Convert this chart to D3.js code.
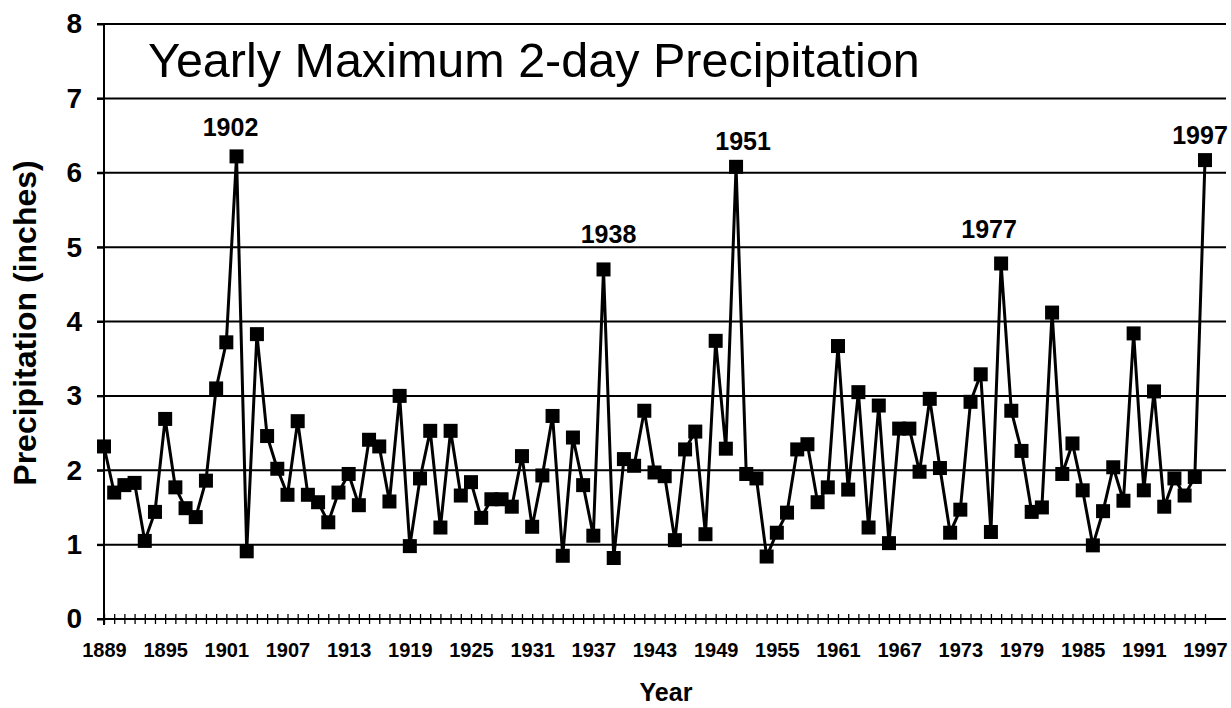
<!DOCTYPE html>
<html><head><meta charset="utf-8">
<script src="https://cdn.jsdelivr.net/npm/d3@7"></script>
<style>
body{margin:0;background:#fff}
svg{display:block}
text{font-family:"Liberation Sans",Arial,Helvetica,sans-serif;fill:#000}
</style>
</head><body>
<svg id="chart" width="1231" height="708"></svg>
<script>
// ---- data ----
const startYear = 1889;
const endYear = 1997;
const precipitation = [
  2.32,1.70,1.80,1.83,1.05,1.44,2.69,1.77,1.49,1.37,1.86,           // 1889-1899
  3.10,3.72,6.22,0.91,3.83,2.46,2.02,1.67,2.66,1.67,                // 1900-1909
  1.57,1.30,1.70,1.95,1.53,2.41,2.32,1.58,3.00,0.98,                // 1910-1919
  1.89,2.53,1.23,2.53,1.66,1.84,1.36,1.61,1.61,1.51,                // 1920-1929
  2.19,1.24,1.93,2.73,0.85,2.44,1.80,1.12,4.70,0.82,                // 1930-1939
  2.15,2.06,2.80,1.97,1.92,1.06,2.28,2.52,1.14,3.74,                // 1940-1949
  2.29,6.08,1.95,1.89,0.84,1.16,1.43,2.28,2.35,1.57,                // 1950-1959
  1.77,3.67,1.74,3.05,1.23,2.87,1.02,2.56,2.56,1.98,                // 1960-1969
  2.96,2.03,1.16,1.47,2.92,3.29,1.17,4.78,2.80,2.26,                // 1970-1979
  1.44,1.50,4.12,1.95,2.36,1.73,0.99,1.45,2.04,1.59,                // 1980-1989
  3.84,1.73,3.06,1.51,1.89,1.66,1.91,6.17                           // 1990-1997
];
const years = precipitation.map((_, i) => startYear + i);
const yTickValues = [0,1,2,3,4,5,6,7,8];
const xTickLabels = [1889,1895,1901,1907,1913,1919,1925,1931,1937,1943,1949,1955,1961,1967,1973,1979,1985,1991,1997];
const peakYears = [1902,1938,1951,1977,1997];
const titleText = "Yearly Maximum 2-day Precipitation";
const xTitle = "Year";
const yTitle = "Precipitation (inches)";

// ---- layout / style (not data) ----
const peakOffsets = {1902:[-6,-20],1938:[5,-26],1951:[7,-17],1977:[-12,-25],1997:[-5,-16]};
const plot = {left:104, right:1205, top:24, bottom:619, gridRight:1226};

const svg = d3.select("#chart");
const x = d3.scaleLinear().domain([startYear, endYear]).range([plot.left, plot.right]);
const y = d3.scaleLinear().domain([0, 8]).range([plot.bottom, plot.top]);

// gridlines
svg.append("g").selectAll("line").data(yTickValues.filter(v => v > 0)).join("line")
  .attr("x1", plot.left - 7).attr("x2", plot.gridRight)
  .attr("y1", d => y(d)).attr("y2", d => y(d))
  .attr("stroke", "#000").attr("stroke-width", 2);

// y axis
const yAxis = svg.append("g").attr("transform", `translate(${plot.left},0)`)
  .call(d3.axisLeft(y).tickValues(yTickValues).tickSize(7).tickPadding(15).tickFormat(d3.format("d")));
yAxis.select(".domain").attr("stroke", "#000").attr("stroke-width", 2).attr("d", `M0,${plot.top}V${plot.bottom + 6}`);
yAxis.selectAll(".tick line").attr("stroke", "#000").attr("stroke-width", 2);
yAxis.selectAll("text").style("font-size", "28px").style("font-weight", "bold");

// x axis line
svg.append("line").attr("x1", plot.left - 7).attr("x2", plot.gridRight)
  .attr("y1", y(0)).attr("y2", y(0)).attr("stroke", "#000").attr("stroke-width", 2);

// x axis cross ticks every year
const xAxis = svg.append("g").attr("transform", `translate(0,${y(0) + 5})`)
  .call(d3.axisBottom(x).tickValues(years).tickSizeInner(10).tickSizeOuter(0).tickFormat(""));
xAxis.select(".domain").remove();
xAxis.selectAll(".tick line").attr("y1", -10).attr("y2", 0).attr("stroke", "#000").attr("stroke-width", 1.3);

// x tick labels
const xLab = svg.append("g").attr("transform", `translate(0,${y(0) + 38})`)
  .call(d3.axisBottom(x).tickValues(xTickLabels).tickSize(0).tickFormat(d3.format("d")));
xLab.select(".domain").remove();
xLab.selectAll("text").style("font-size", "20px").style("font-weight", "bold").attr("y", 0).attr("dy", 0);

// line
const line = d3.line().x((d, i) => x(years[i])).y(d => y(d));
svg.append("path").datum(precipitation).attr("d", line)
  .attr("fill", "none").attr("stroke", "#000").attr("stroke-width", 3).attr("stroke-linejoin", "miter");

// markers
const ms = 14;
svg.append("g").selectAll("rect").data(precipitation).join("rect")
  .attr("x", (d, i) => x(years[i]) - ms / 2).attr("y", d => y(d) - ms / 2)
  .attr("width", ms).attr("height", ms).attr("fill", "#000");

// peak labels
svg.append("g").selectAll("text").data(peakYears).join("text")
  .attr("x", d => x(d) + peakOffsets[d][0])
  .attr("y", d => y(precipitation[d - startYear]) + peakOffsets[d][1])
  .attr("text-anchor", "middle").style("font-size", "25px").style("font-weight", "bold")
  .text(d => d);

// title
svg.append("text").attr("x", 148).attr("y", 77).style("font-size", "48.5px").text(titleText);

// axis titles
svg.append("text").attr("x", 666).attr("y", 701).attr("text-anchor", "middle")
  .style("font-size", "25px").style("font-weight", "bold").text(xTitle);
svg.append("text").attr("transform", "translate(36,323) rotate(-90)").attr("text-anchor", "middle")
  .style("font-size", "32px").style("font-weight", "bold").text(yTitle);
</script>
</body></html>
